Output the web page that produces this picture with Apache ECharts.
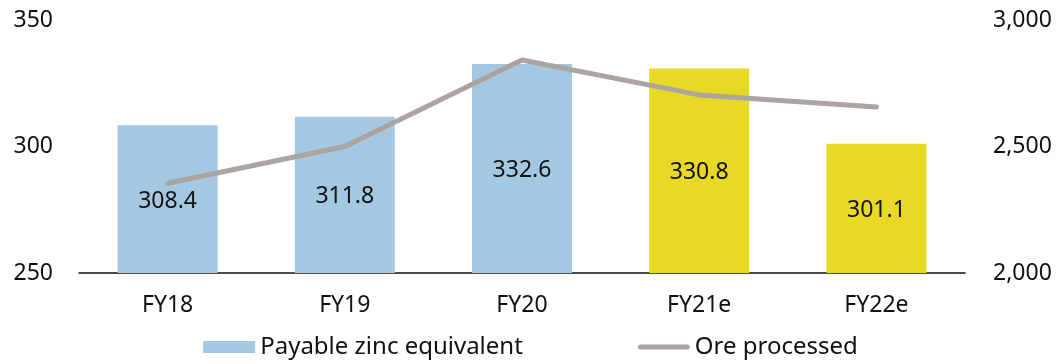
<!DOCTYPE html>
<html>
<head>
<meta charset="utf-8">
<script src="https://cdn.jsdelivr.net/npm/echarts@6/dist/echarts.min.js"></script>
<style>
  html, body { margin: 0; padding: 0; background: #fff; }
  #chart { width: 1061px; height: 364px; }
</style>
</head>
<body>
<div id="chart"></div>
<script>
// Financial years shown on the category axis
const years = ['FY18', 'FY19', 'FY20', 'FY21e', 'FY22e'];
// Payable zinc equivalent (kt), left axis
const payableZinc = [308.4, 311.8, 332.6, 330.8, 301.1];
// Ore processed (kt), right axis
const oreProcessed = [2355, 2500, 2842, 2704, 2656];
// Estimated years are highlighted
const isEstimate = [false, false, false, true, true];

const FONT = '"Noto Sans", sans-serif';
const FS = 23;
const TEXT = '#111';
const BLUE = '#a5c8e2';
const YELLOW = '#e8d924';
const GREY = '#aba4a1';

// Rounded stroke used as the legend key for the line series
const LINE_ICON = 'path://M2.5,0 H49.5 A2.5,2.5 0 0 1 49.5,5 H2.5 A2.5,2.5 0 0 1 2.5,0 Z';

const chart = echarts.init(document.getElementById('chart'));
chart.setOption({
  animation: false,
  textStyle: { fontFamily: FONT },
  grid: { left: 79, right: 96, top: 20, bottom: 91 },
  legend: {
    bottom: 0,
    left: 'center',
    itemGap: 115,
    itemWidth: 52,
    itemHeight: 12,
    textStyle: { fontFamily: FONT, fontSize: 24, color: TEXT },
    data: [
      { name: 'Payable zinc equivalent', icon: 'rect' },
      { name: 'Ore processed', icon: LINE_ICON }
    ]
  },
  xAxis: {
    type: 'category',
    data: years,
    axisLine: { lineStyle: { color: TEXT, width: 1.5 } },
    axisTick: { show: false },
    axisLabel: { fontFamily: FONT, fontSize: FS, color: TEXT, margin: 21 }
  },
  yAxis: [
    {
      type: 'value', min: 250, max: 350, interval: 50,
      splitLine: { show: false },
      axisLine: { show: false },
      axisTick: { show: false },
      axisLabel: { fontFamily: FONT, fontSize: FS, color: TEXT, margin: 26 }
    },
    {
      type: 'value', min: 2000, max: 3000, interval: 500,
      splitLine: { show: false },
      axisLine: { show: false },
      axisTick: { show: false },
      axisLabel: {
        fontFamily: FONT, fontSize: FS, color: TEXT, margin: 28,
        formatter: v => v.toLocaleString('en-US')
      }
    }
  ],
  series: [
    {
      name: 'Payable zinc equivalent',
      type: 'bar',
      yAxisIndex: 0,
      barWidth: 100,
      itemStyle: { color: BLUE },
      data: payableZinc.map((v, i) => ({
        value: v,
        itemStyle: { color: isEstimate[i] ? YELLOW : BLUE }
      })),
      label: {
        show: true,
        position: 'inside',
        offset: [0, 2],
        fontFamily: FONT,
        fontSize: FS,
        color: TEXT,
        formatter: p => p.value.toFixed(1)
      }
    },
    {
      name: 'Ore processed',
      type: 'line',
      yAxisIndex: 1,
      data: oreProcessed,
      symbol: 'none',
      lineStyle: { color: GREY, width: 5, cap: 'round' },
      itemStyle: { color: GREY }
    }
  ]
});
</script>
</body>
</html>
